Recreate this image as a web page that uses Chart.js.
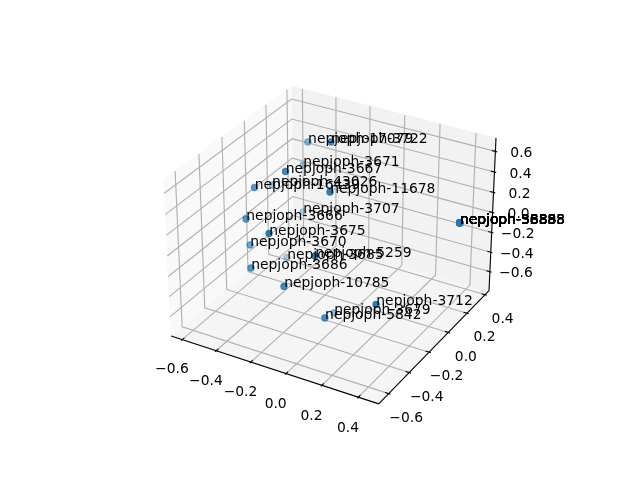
<!DOCTYPE html>
<html><head><meta charset="utf-8">
<script src="https://cdn.jsdelivr.net/npm/chart.js@4"></script>
<style>html,body{margin:0;padding:0;background:#fff}canvas{display:block}</style>
</head><body><canvas id="c" width="640" height="480"></canvas>
<script>
const pointNames=["nepjoph-17079","nepjoph-3722","nepjoph-3671","nepjoph-3667","nepjoph-43026","nepjoph-16439","nepjoph-11678","nepjoph-3707","nepjoph-3666","nepjoph-3675","nepjoph-3670","nepjoph-3685","nepjoph-5259","nepjoph-3686","nepjoph-10785","nepjoph-3712","nepjoph-3679","nepjoph-5842","nepjoph-58885","nepjoph-3688","nepjoph-5886","nepjoph-56355","nepjoph-3689","nepjoph-53338","nepjoph-3683","nepjoph-5888","nepjoph-36588","nepjoph-5385"];
const xValues=[-0.387,-0.211,-0.405,-0.356,-0.503,-0.509,-0.116,-0.371,-0.493,-0.324,-0.470,-0.371,-0.101,-0.411,-0.221,0.218,-0.070,-0.019,0.484,0.484,0.484,0.484,0.484,0.484,0.484,0.484,0.484,0.484];
const yValues=[0.148,0.078,0.129,-0.113,-0.010,-0.159,-0.090,0.070,-0.265,-0.321,-0.270,-0.087,-0.258,-0.356,-0.354,-0.212,-0.129,-0.302,0.133,0.133,0.133,0.133,0.133,0.133,0.133,0.133,0.133,0.133];
const zValues=[0.526,0.661,0.307,0.465,0.179,0.276,0.360,-0.097,0.066,0.055,-0.177,-0.419,-0.110,-0.299,-0.385,-0.467,-0.789,-0.644,0.158,0.158,0.158,0.158,0.158,0.158,0.158,0.158,0.158,0.158];
const xTicks=[-0.6,-0.4,-0.2,0.0,0.2,0.4];
const yTicks=[-0.6,-0.4,-0.2,0.0,0.2,0.4];
const zTicks=[-0.6,-0.4,-0.2,0.0,0.2,0.4,0.6];
const xLim=[-0.666,0.51], yLim=[-0.695,0.444], zLim=[-0.797,0.728];

const f=1.8294640721620434*25/24/Math.sqrt(41), box=[4*f,4*f,3*f];
const el=30*Math.PI/180, az=-60*Math.PI/180;
const w=[Math.cos(el)*Math.cos(az),Math.cos(el)*Math.sin(az),Math.sin(el)];
const u=[-Math.sin(az),Math.cos(az),0];
const v=[w[1]*u[2]-w[2]*u[1],w[2]*u[0]-w[0]*u[2],w[0]*u[1]-w[1]*u[0]];
const eye=box.map((b,i)=>b/2+10*w[i]);
const dot=(a,b)=>a[0]*b[0]+a[1]*b[1]+a[2]*b[2];
function view(x,y,z){
  const p=[(x-xLim[0])/(xLim[1]-xLim[0])*box[0]-eye[0],(y-yLim[0])/(yLim[1]-yLim[0])*box[1]-eye[1],(z-zLim[0])/(zLim[1]-zLim[0])*box[2]-eye[2]];
  return [dot(u,p),dot(v,p),dot(w,p)];
}
function proj(x,y,z){const q=view(x,y,z);return {x:q[0]/-q[2],y:q[1]/-q[2]};}

const [x0,x1]=xLim,[y0,y1]=yLim,[z0,z1]=zLim;
const dx=(x1-x0)/12,dy=(y1-y0)/12;
const datasets=[];
function poly(corners,color,order,width,fill){
  datasets.push({data:corners.map(c=>proj(...c)),showLine:true,pointRadius:0,borderColor:color,borderWidth:width,backgroundColor:color,fill:fill?'shape':false,order,clip:false,tension:0});
}
// panes
poly([[x0,y0,z0],[x0,y1,z0],[x0,y1,z1],[x0,y0,z1],[x0,y0,z0]],'#f9f9f9',9,1,true);
poly([[x0,y1,z0],[x1,y1,z0],[x1,y1,z1],[x0,y1,z1],[x0,y1,z0]],'#f2f2f2',9,1,true);
poly([[x0,y0,z0],[x1,y0,z0],[x1,y1,z0],[x0,y1,z0],[x0,y0,z0]],'#f5f5f5',9,1,true);
// grid
const G='#b0b0b0',LW=1.11;
xTicks.forEach(t=>poly([[t,y0,z0],[t,y1,z0],[t,y1,z1]],G,8,LW));
yTicks.forEach(t=>poly([[x1,t,z0],[x0,t,z0],[x0,t,z1]],G,8,LW));
zTicks.forEach(t=>poly([[x1,y1,t],[x0,y1,t],[x0,y0,t]],G,8,LW));
// axes and tick marks
poly([[x0,y0,z0],[x1,y0,z0]],'#000',7,LW);
poly([[x1,y0,z0],[x1,y1,z0]],'#000',7,LW);
poly([[x1,y1,z0],[x1,y1,z1]],'#000',7,LW);
xTicks.forEach(t=>poly([[t,y0-0.1*dy,z0],[t,y0+0.2*dy,z0]],'#000',7,LW));
yTicks.forEach(t=>poly([[x1+0.1*dx,t,z0],[x1-0.2*dx,t,z0]],'#000',7,LW));
zTicks.forEach(t=>poly([[x1+0.1*dx,y1,t],[x1-0.2*dx,y1,t]],'#000',7,LW));
// scatter with depth shading
const depth=xValues.map((x,i)=>view(x,yValues[i],zValues[i])[2]);
const dMin=Math.min(...depth),dMax=Math.max(...depth);
const colors=depth.map(d=>`rgba(31,119,180,${(0.3+0.7*(d-dMin)/(dMax-dMin)).toFixed(3)})`);
datasets.push({data:xValues.map((x,i)=>proj(x,yValues[i],zValues[i])),showLine:false,pointRadius:3.1,pointBorderWidth:1.2,pointBackgroundColor:colors,pointBorderColor:colors,order:1,clip:false});

const FONT='13.89px "DejaVu Sans"';
const fmt=t=>(t<0?'\u2212':'')+Math.abs(t).toFixed(1);
const textPlugin={id:'text',afterDatasetsDraw(chart){
  const ctx=chart.ctx,sx=chart.scales.x,sy=chart.scales.y;
  const px=p=>[sx.getPixelForValue(p.x),sy.getPixelForValue(p.y)];
  ctx.save();ctx.font=FONT;ctx.fillStyle='#000';
  ctx.textAlign='left';ctx.textBaseline='alphabetic';
  pointNames.forEach((n,i)=>{const [a,b]=px(proj(xValues[i],yValues[i],zValues[i]));ctx.fillText(n,a+0.2,b+1);});
  ctx.textAlign='center';ctx.textBaseline='middle';
  xTicks.forEach(t=>{const [a,b]=px(proj(t,y0-0.1,z0-0.205));ctx.fillText(fmt(t),a+0.5,b);});
  yTicks.forEach(t=>{const [a,b]=px(proj(x1,t,z0));ctx.fillText(fmt(t),a+17.5,b+24.5);});
  zTicks.forEach(t=>{const [a,b]=px(proj(x1,y1,t));ctx.fillText(fmt(t),a+26,b+2);});
  ctx.restore();
}};

new Chart(document.getElementById('c'),{type:'scatter',data:{datasets},plugins:[textPlugin],options:{
  responsive:false,animation:false,events:[],
  layout:{padding:{left:143.2,right:127.2,top:57.6,bottom:52.8}},
  plugins:{legend:{display:false},tooltip:{enabled:false},title:{display:false}},
  scales:{x:{type:'linear',display:false,min:-0.095,max:0.09},y:{type:'linear',display:false,min:-0.095,max:0.09}}
}});
</script></body></html>
